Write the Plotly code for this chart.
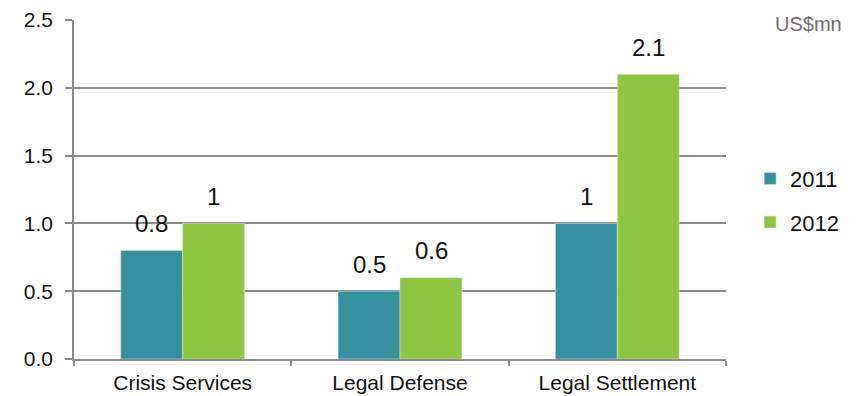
import plotly.graph_objects as go

categories = ["Crisis Services", "Legal Defense", "Legal Settlement"]
vals_2011 = [0.8, 0.5, 1.0]
vals_2012 = [1.0, 0.6, 2.1]
labels_2011 = ["0.8", "0.5", "1"]
labels_2012 = ["1", "0.6", "2.1"]

TEAL = "#35909F"
GREEN = "#8DC641"
GRID = "#8A8A8A"
FONT = "Liberation Sans, Arial, sans-serif"

fig = go.Figure()
fig.add_trace(go.Bar(x=categories, y=vals_2011, name="2011", marker_color=TEAL,
                     legendgroup="a"))
fig.add_trace(go.Bar(x=categories, y=vals_2012, name="2012", marker_color=GREEN,
                     legendgroup="b"))

for cat, v, t in zip(categories, vals_2011, labels_2011):
    fig.add_annotation(x=cat, y=v, text=t, showarrow=False, xshift=-31, yshift=27,
                       yanchor="middle", font=dict(size=24, color="#111", family=FONT))
for cat, v, t in zip(categories, vals_2012, labels_2012):
    fig.add_annotation(x=cat, y=v, text=t, showarrow=False, xshift=31, yshift=27,
                       yanchor="middle", font=dict(size=24, color="#111", family=FONT))

fig.add_annotation(xref="paper", yref="paper", x=1.072, y=1.0, xanchor="left", yanchor="top",
                   text="US$mn", showarrow=False, yshift=9,
                   font=dict(size=20, color="#6E6E6E", family=FONT))

fig.update_layout(
    width=861, height=396,
    margin=dict(l=74, r=135, t=20, b=37),
    paper_bgcolor="white", plot_bgcolor="white",
    barmode="group", bargap=0.43, bargroupgap=0,
    font=dict(family=FONT, color="#111"),
    showlegend=True,
    legend=dict(x=1.037, y=0.594, xanchor="left", yanchor="top",
                traceorder="grouped", tracegroupgap=12,
                font=dict(size=22, color="#111", family=FONT)),
)
fig.update_xaxes(showline=True, linecolor=GRID, linewidth=1.5, automargin=False,
                 ticks="outside", tickson="boundaries", ticklen=5, tickcolor=GRID, tickwidth=1.5,
                 ticklabelstandoff=4,
                 tickfont=dict(size=21, color="#111", family=FONT), showgrid=False)
fig.update_yaxes(range=[0, 2.5], dtick=0.5, tickformat=".1f", automargin=False,
                 showline=True, linecolor=GRID, linewidth=1.5,
                 ticks="outside", ticklen=7, tickcolor=GRID, tickwidth=1.5,
                 ticklabelstandoff=8,
                 showgrid=True, gridcolor=GRID, gridwidth=1.5, zeroline=False,
                 tickfont=dict(size=21, color="#111", family=FONT))

fig.write_html("out.html")
